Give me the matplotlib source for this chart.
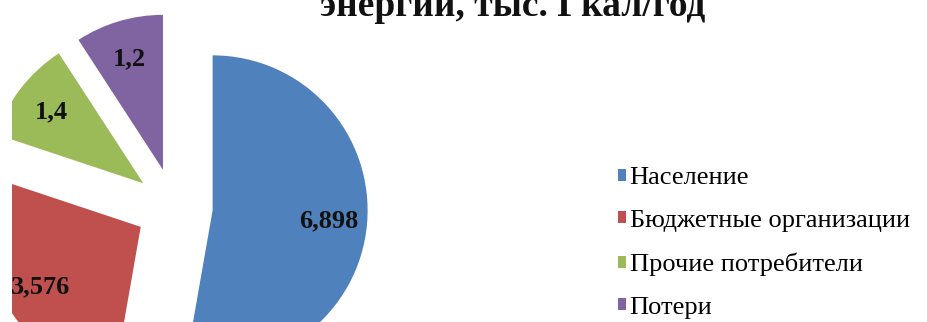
import matplotlib
matplotlib.use("Agg")
import matplotlib.pyplot as plt

plt.rcParams['font.family'] = ['Liberation Serif', 'DejaVu Serif']

# data
categories = ["Население", "Бюджетные организации", "Прочие потребители", "Потери"]
values = [6.898, 3.576, 1.4, 1.2]
value_labels = ["6,898", "3,576", "1,4", "1,2"]
colors = ["#4F81BD", "#C0504D", "#9BBB59", "#8064A2"]
title = "энергии, тыс. Гкал/год"

W, H = 927, 322
fig = plt.figure(figsize=(W / 100, H / 100), dpi=100)

# pie centre in pixels (from left, from bottom) and radius in pixels
cx, cy, R = 174, 115, 155
left_px, right_px = 12, 520
ax = fig.add_axes([left_px / W, 0, (right_px - left_px) / W, 1])

labels_iter = iter(value_labels)
wedges, texts, autotexts = ax.pie(
    values, colors=colors, startangle=90, counterclock=False,
    explode=[0.25] * len(values),
    autopct=lambda p: next(labels_iter), pctdistance=0.75,
    wedgeprops=dict(linewidth=0),
    textprops=dict(fontsize=19, fontweight='bold', color='#111111',
                   family='Liberation Serif'))
# the chart is cropped on the left, bottom and top
for w in wedges:
    w.set_clip_on(True)
    w.set_clip_path(ax.patch)

ax.set_aspect('auto')
ax.set_xlim((left_px - cx) / R, (right_px - cx) / R)
ax.set_ylim(-cy / R, (H - cy) / R)

# only the lower line of the title is inside the crop
fig.text(513 / W, 1 - 16 / H, title, ha='center', va='baseline',
         fontsize=27, fontweight='bold', color='#111111',
         family='Liberation Serif')

fig.legend(wedges, categories, loc='center left',
           bbox_to_anchor=(618 / W, 79 / H), frameon=False,
           prop=dict(family='Liberation Serif', size=19),
           handlelength=0.32, handleheight=0.32,
           handletextpad=0.12, labelspacing=0.78, borderpad=0,
           borderaxespad=0)

fig.savefig("out.png", dpi=100)
